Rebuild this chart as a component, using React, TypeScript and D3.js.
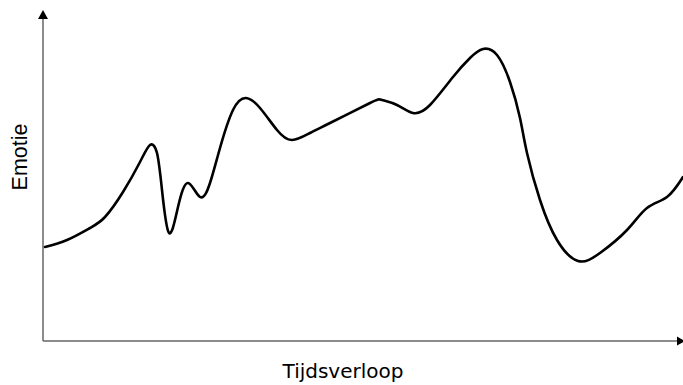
import React from "react";
import * as d3 from "d3";

// Time (arbitrary units) and emotion level (arbitrary units)
const times = [2, 24, 47, 62, 80, 97, 107, 114, 119, 126, 135, 145, 157, 167, 177, 190, 203, 217, 234, 249, 267, 287, 327, 339, 354, 370, 387, 410, 427, 440, 454, 467, 477, 484, 497, 514, 535, 557, 584, 604, 624, 640];
const emotions = [94, 101, 113, 124, 149, 179, 196, 188, 151, 108, 134, 158, 144, 158, 193, 231, 243, 233, 211, 201, 208, 218, 238, 241, 236, 228, 236, 264, 283, 292, 286, 259, 223, 188, 141, 101, 80, 88, 111, 133, 144, 164];

const xLabel = "Tijdsverloop";
const yLabel = "Emotie";

const W = 683;
const H = 385;
const x0 = 43;
const yAxis = 341;

export default function App() {
  const x = d3.scaleLinear().domain([0, 640]).range([x0, 683]);
  const y = d3.scaleLinear().domain([0, 331]).range([yAxis, 10]);
  const pts: [number, number][] = times.map((t, i) => [t, emotions[i]]);
  const line = d3
    .line<[number, number]>()
    .x((d) => x(d[0]))
    .y((d) => y(d[1]))
    .curve(d3.curveNatural);

  return (
    <svg
      width={W}
      height={H}
      style={{ position: "absolute", left: 0, top: 0, background: "#fff" }}
    >
      {/* axes */}
      <line x1={x0} y1={yAxis} x2={x0} y2={18} stroke="#666" strokeWidth={1.5} />
      <line x1={x0} y1={yAxis} x2={678} y2={yAxis} stroke="#666" strokeWidth={1.5} />
      <path d={`M${x0},10 L${x0 - 5},19 L${x0 + 5},19 Z`} fill="#000" />
      <path d={`M685,${yAxis} L677,${yAxis - 4.5} L677,${yAxis + 4.5} Z`} fill="#000" />
      {/* curve */}
      <path d={line(pts) || ""} fill="none" stroke="#000" strokeWidth={2.6} strokeLinejoin="round" strokeLinecap="round" />
      {/* labels */}
      <text
        x={343}
        y={378}
        textAnchor="middle"
        fontFamily="'DejaVu Sans', Verdana, sans-serif"
        fontSize={20}
        fill="#000"
      >
        {xLabel}
      </text>
      <text
        transform="translate(27,157) rotate(-90)"
        textAnchor="middle"
        fontFamily="'Liberation Sans', Arial, sans-serif"
        fontSize={21.5}
        fill="#000"
      >
        {yLabel}
      </text>
    </svg>
  );
}
